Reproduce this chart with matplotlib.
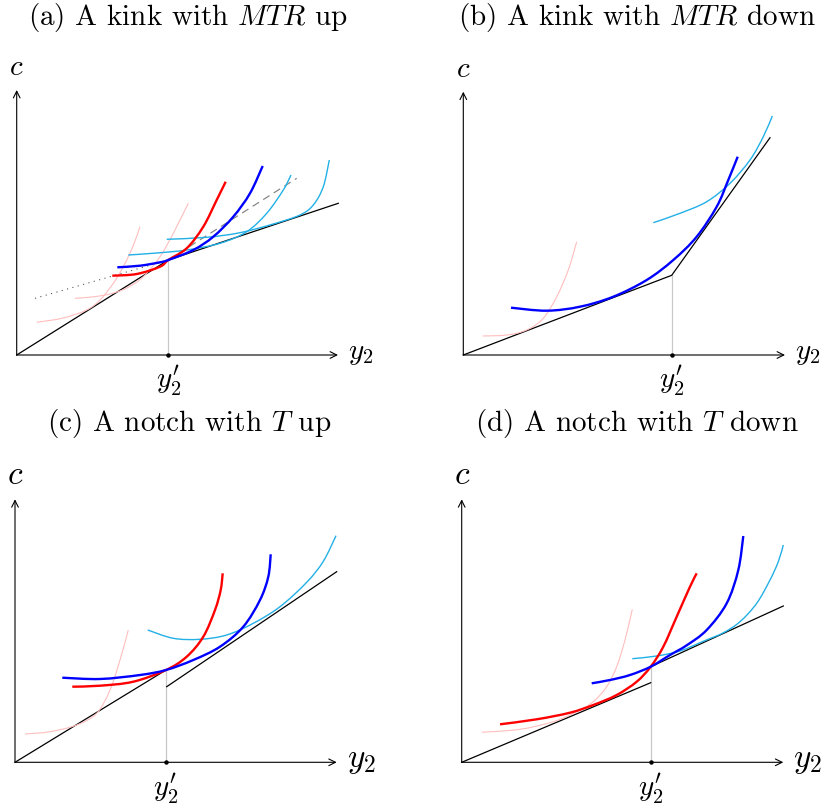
import matplotlib
matplotlib.use('Agg')
import matplotlib.pyplot as plt
from matplotlib.path import Path
from matplotlib.patches import PathPatch

plt.rcParams['font.family'] = 'serif'
plt.rcParams['font.serif'] = ['cmr10']
plt.rcParams['mathtext.fontset'] = 'cm'
plt.rcParams['axes.unicode_minus'] = False

RED = '#ff0000'
BLUE = '#0000ff'
CYAN = '#22b0e6'
PINK = '#ffbdbd'
GRAY = '#c8c8c8'

TITLES = ['(a) A kink with $MTR$ up', '(b) A kink with $MTR$ down',
          '(c) A notch with $T$ up', '(d) A notch with $T$ down']

# budget lines (x, c), chart units; None splits a notch
budget_a_x = [0, 151.6, 321.6]
budget_a_c = [0, 95.0, 151.7]
budget_b_x = [0, 208.4, 306.7]
budget_b_c = [0, 79.7, 217.3]
budget_c_x = [0, 151.0, None, 151.7, 321.7]
budget_c_c = [0, 92.3, None, 75.6, 190.6]
budget_d_x = [0, 189.0, None, 189.0, 321.6]
budget_d_c = [0, 79.6, None, 95.6, 156.3]

# threshold y2'
kink_x = [151.6, 208.4, 151.0, 189.0]
kink_c = [95.0, 79.7, 92.3, 95.6]

# panel (a) extras
dotted_a_x = [18.3, 151.6]
dotted_a_c = [56.7, 95.0]
dashed_a_x = [151.6, 280.0]
dashed_a_c = [95.0, 176.7]

# indifference curves, panel (a)
pink1_a_x = [20.0, 46.6, 70.0, 83.3, 96.6, 106.6, 116.0, 123.3]
pink1_a_c = [32.7, 37.0, 45.0, 55.0, 71.7, 88.3, 108.0, 128.3]
pink2_a_x = [58.3, 75.0, 93.3, 110.0, 126.6, 143.3, 156.6, 171.6]
pink2_a_c = [56.7, 58.0, 61.0, 67.0, 78.3, 98.3, 121.7, 151.7]
red_a_x = [95.6, 120.0, 143.3, 151.6, 170.0, 186.6, 200.0, 209.0]
red_a_c = [79.3, 81.0, 88.3, 95.0, 106.7, 128.3, 155.0, 173.3]
blue_a_x = [100.6, 123.3, 143.3, 151.6, 176.6, 196.6, 216.6, 233.3, 246.0]
blue_a_c = [87.7, 89.3, 92.7, 95.0, 105.0, 118.3, 138.3, 161.7, 189.0]
cyan1_a_x = [111.6, 140.0, 170.0, 203.3, 230.0, 250.0, 266.6, 274.3]
cyan1_a_c = [100.0, 102.0, 105.0, 111.7, 123.3, 141.7, 165.0, 180.0]
cyan2_a_x = [150.0, 190.0, 223.3, 256.6, 283.3, 296.6, 306.6, 312.6]
cyan2_a_c = [115.7, 117.7, 122.3, 131.0, 140.0, 150.0, 168.3, 195.0]

# panel (b)
pink_b_x = [19.4, 43.4, 63.4, 80.0, 93.4, 105.0, 113.4]
pink_b_c = [19.0, 20.0, 25.0, 36.7, 58.3, 85.0, 113.3]
blue_b_x = [47.7, 83.4, 116.7, 150.0, 183.4, 210.0, 233.4, 253.4, 265.0, 274.4]
blue_b_c = [47.3, 44.3, 48.3, 58.3, 75.0, 95.0, 118.3, 148.3, 175.0, 198.3]
cyan_b_x = [190.0, 216.7, 243.4, 266.7, 286.7, 300.0, 309.0]
cyan_b_c = [132.3, 141.7, 153.3, 171.7, 195.0, 218.3, 239.0]

# panel (c)
pink_c_x = [10.0, 35.0, 61.7, 81.7, 95.0, 105.0, 113.3]
pink_c_c = [28.3, 30.6, 37.3, 49.0, 72.3, 102.3, 132.3]
red_c_x = [57.3, 85.0, 118.3, 151.0, 171.7, 188.3, 200.0, 205.7, 207.7]
red_c_c = [75.6, 76.6, 80.6, 92.3, 105.6, 125.6, 152.3, 172.3, 189.0]
blue_c_x = [47.3, 85.0, 125.0, 151.0, 178.3, 205.0, 228.3, 245.0, 253.3, 255.7]
blue_c_c = [84.6, 83.3, 87.3, 92.3, 102.3, 115.6, 135.6, 162.3, 185.6, 208.0]
cyan_c_x = [132.7, 158.3, 185.0, 211.7, 238.3, 265.0, 291.7, 308.3, 321.0]
cyan_c_c = [132.3, 124.0, 123.0, 127.3, 139.0, 155.6, 180.0, 201.0, 226.6]

# panel (d)
pink_d_x = [20.0, 58.3, 91.6, 115.0, 131.6, 145.0, 155.0, 163.3, 170.6]
pink_d_c = [30.0, 33.0, 40.6, 50.6, 60.6, 75.6, 95.6, 122.3, 153.0]
red_d_x = [38.3, 75.0, 108.3, 131.6, 155.0, 175.0, 189.0, 201.6, 215.0, 228.3, 235.0]
red_d_c = [38.0, 43.0, 49.6, 57.3, 67.3, 80.6, 95.6, 115.6, 145.6, 175.6, 189.0]
blue_d_x = [130.0, 148.3, 168.3, 189.0, 208.3, 225.0, 245.0, 265.0, 276.6, 281.6]
blue_d_c = [79.0, 82.3, 87.3, 95.6, 107.3, 117.0, 132.3, 159.0, 192.3, 226.3]
cyan_d_x = [170.6, 195.0, 218.3, 241.6, 261.6, 278.3, 295.0, 308.3, 316.6, 321.6]
cyan_d_c = [103.6, 106.3, 111.3, 121.0, 129.5, 140.6, 159.0, 182.3, 200.6, 217.3]

# axis extents (chart units)
axis_len_x = [321.3, 321.7, 321.7, 321.6]
axis_len_c = [265.0, 263.3, 263.0, 263.0]


def curve(ax, xs, cs, color, lw):
    # smooth path through the read points (Catmull-Rom drawn as cubic Beziers)
    pts = list(zip(xs, cs))
    verts = [pts[0]]
    codes = [Path.MOVETO]
    n = len(pts)
    for k in range(n - 1):
        p0 = pts[max(k - 1, 0)]
        p1 = pts[k]
        p2 = pts[k + 1]
        p3 = pts[min(k + 2, n - 1)]
        c1 = (p1[0] + (p2[0] - p0[0]) / 6, p1[1] + (p2[1] - p0[1]) / 6)
        c2 = (p2[0] - (p3[0] - p1[0]) / 6, p2[1] - (p3[1] - p1[1]) / 6)
        verts += [c1, c2, p2]
        codes += [Path.CURVE4] * 3
    ax.add_patch(PathPatch(Path(verts, codes), fill=False, edgecolor=color,
                           lw=lw, capstyle='butt', zorder=3))


def setup(ax, i, fs):
    ax.set_axis_off()
    ax.annotate('', xy=(axis_len_x[i], 0), xytext=(0, 0),
                arrowprops=dict(arrowstyle='->', lw=0.8, color='black',
                                mutation_scale=12, shrinkA=0, shrinkB=0))
    ax.annotate('', xy=(0, axis_len_c[i]), xytext=(0, 0),
                arrowprops=dict(arrowstyle='->', lw=0.8, color='black',
                                mutation_scale=12, shrinkA=0, shrinkB=0))
    ax.text(axis_len_x[i] + 10, 1, '$y_2$', fontsize=fs, ha='left', va='center')
    ax.text(0, axis_len_c[i] + 9, '$c$', fontsize=fs, ha='center', va='bottom')
    ax.plot([kink_x[i], kink_x[i]], [0, kink_c[i]], color=GRAY, lw=0.9, zorder=1)
    ax.plot([kink_x[i]], [0], marker='o', ms=2.2, color='black')
    ax.text(kink_x[i], -9, "$y_2'$", fontsize=21, ha='center', va='top')


def main():
    fig = plt.figure(figsize=(8.28, 8.10), dpi=100)
    W, H = 828.0, 810.0
    regions = [(0, 414, 40, 405), (414, 828, 40, 405),
               (0, 414, 440, 810), (414, 828, 440, 810)]
    origins = [(16.7, 355.0), (463.3, 355.0), (15.0, 762.3), (461.7, 762.3)]
    axes = []
    for (x0, x1, y0, y1), (ox, oy) in zip(regions, origins):
        ax = fig.add_axes([x0 / W, 1 - y1 / H, (x1 - x0) / W, (y1 - y0) / H])
        ax.set_xlim(x0 - ox, x1 - ox)
        ax.set_ylim(oy - y1, oy - y0)
        axes.append(ax)

    title_pos = [(188, 18), (637, 18), (189.5, 423), (637, 424)]
    for t, (tx, ty) in zip(TITLES, title_pos):
        fig.text(tx / W, 1 - ty / H, t, fontsize=21, ha='center', va='center')

    # (a)
    ax = axes[0]
    setup(ax, 0, 21)
    curve(ax, pink1_a_x, pink1_a_c, PINK, 0.8)
    curve(ax, pink2_a_x, pink2_a_c, PINK, 0.8)
    ax.plot(dotted_a_x, dotted_a_c, color='#555555', lw=0.8, ls=(0, (1, 4)))
    ax.plot(dashed_a_x, dashed_a_c, color='#888888', lw=0.9, ls=(0, (6, 4)))
    ax.plot(budget_a_x, budget_a_c, color='black', lw=0.9)
    curve(ax, cyan1_a_x, cyan1_a_c, CYAN, 1.0)
    curve(ax, cyan2_a_x, cyan2_a_c, CYAN, 1.0)
    curve(ax, red_a_x, red_a_c, RED, 1.7)
    curve(ax, blue_a_x, blue_a_c, BLUE, 1.7)

    # (b)
    ax = axes[1]
    setup(ax, 1, 21)
    curve(ax, pink_b_x, pink_b_c, PINK, 0.8)
    ax.plot(budget_b_x, budget_b_c, color='black', lw=0.9)
    curve(ax, cyan_b_x, cyan_b_c, CYAN, 1.0)
    curve(ax, blue_b_x, blue_b_c, BLUE, 1.7)

    # (c)
    ax = axes[2]
    setup(ax, 2, 24)
    curve(ax, pink_c_x, pink_c_c, PINK, 0.8)
    ax.plot(budget_c_x, budget_c_c, color='black', lw=0.9)
    curve(ax, cyan_c_x, cyan_c_c, CYAN, 1.0)
    curve(ax, red_c_x, red_c_c, RED, 1.7)
    curve(ax, blue_c_x, blue_c_c, BLUE, 1.7)

    # (d)
    ax = axes[3]
    setup(ax, 3, 24)
    curve(ax, pink_d_x, pink_d_c, PINK, 0.8)
    ax.plot(budget_d_x, budget_d_c, color='black', lw=0.9)
    curve(ax, cyan_d_x, cyan_d_c, CYAN, 1.0)
    curve(ax, red_d_x, red_d_c, RED, 1.7)
    curve(ax, blue_d_x, blue_d_c, BLUE, 1.7)

    fig.savefig('out.png', dpi=100)
    plt.close(fig)


if __name__ == '__main__':
    main()
